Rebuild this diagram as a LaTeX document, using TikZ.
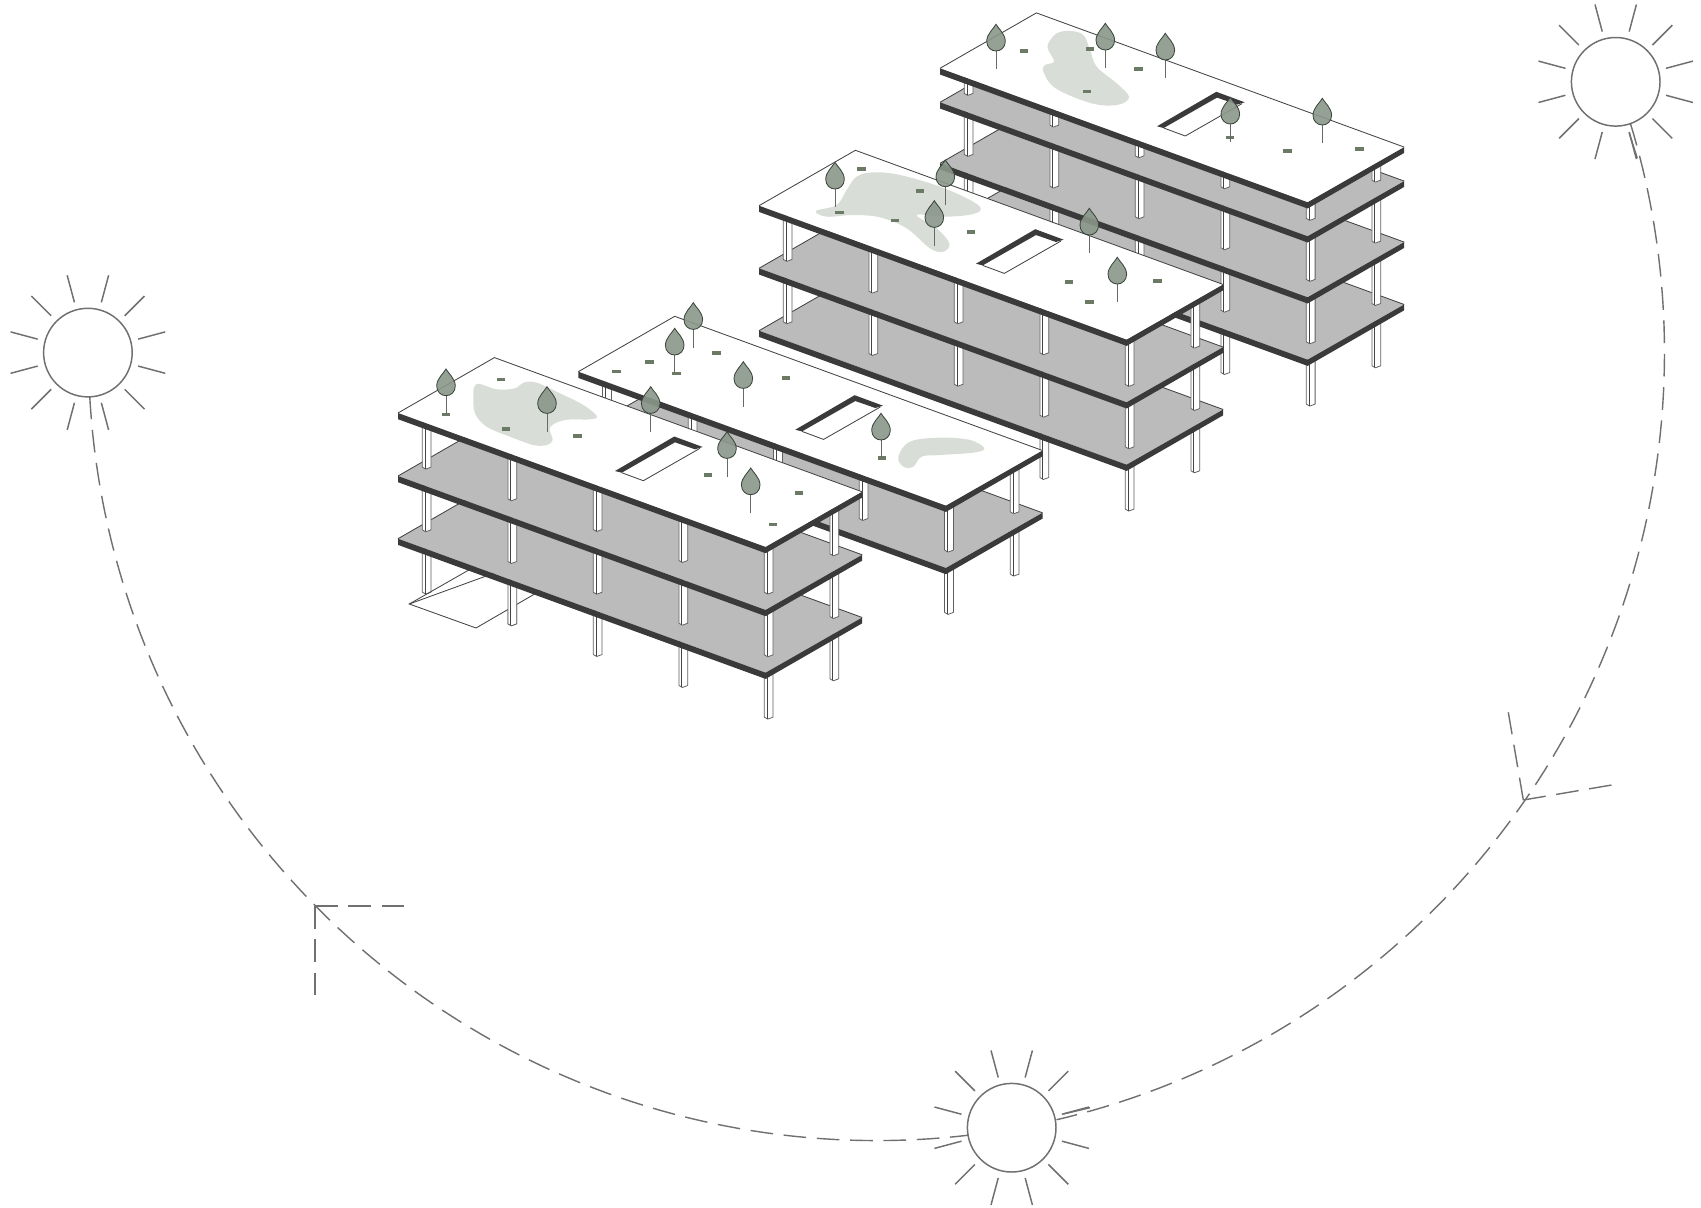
\documentclass[tikz,border=0pt]{standalone}
\definecolor{slabgray}{HTML}{BBBBBB}
\definecolor{slabdark}{HTML}{3A3A3A}
\definecolor{thinline}{HTML}{444444}
\definecolor{sunline}{HTML}{707070}
\definecolor{blobcol}{HTML}{D9DDD7}
\definecolor{leafcol}{HTML}{8A978A}
\definecolor{leafline}{HTML}{3C463C}
\definecolor{grasscol}{HTML}{6A7A64}
\tikzset{
  thinedge/.style={draw=thinline,line width=1.2pt},
  sunstroke/.style={draw=sunline,line width=2.1pt},
  dashstroke/.style={draw=sunline,line width=2pt,dash pattern=on 32.3pt off 15.15pt},
  colbody/.style={fill=white,draw=thinline!85,line width=1.1pt,line join=round},
  colinner/.style={draw=thinline,line width=1pt},
  blob/.style={fill=blobcol,draw=none},
}
\newcommand\colm[3]{% x, y bottom, length
  \path[colbody] ({#1-4.4},{#2-#3}) -- ({#1-4.4},{#2-1.2}) -- ({#1-1},{#2+0.8}) -- ({#1+4.4},{#2-1.2}) -- ({#1+4.4},{#2-#3}) -- cycle;
  \draw[colinner] ({#1-1.6},{#2-#3}) -- ({#1-1.6},{#2+0.2});
}
\newcommand\lvl[3]{% Lx, Ly of slab below, length
  \colm{#1+436.3}{#2+79}{#3}
  \foreach \dx/\dy in {28.7/-7.7,114.3/24,199.7/54.7,285.3/85.7,370.7/117.3}{
    \colm{#1+\dx}{#2+\dy}{#3}
  }
}
\newcommand\slab[3]{% Lx, Ly, fill colour
  \fill[#3] (#1,#2) -- ({#1+96.4},{#2-55.4}) -- ({#1+464.2},{#2+78.8}) -- ({#1+367.6},{#2+134}) -- cycle;
  \path[thinedge] (#1,#2) -- ({#1+96.4},{#2-55.4}) -- ({#1+464.2},{#2+78.8});
  \fill[slabdark] (#1,#2) -- ({#1+367.6},{#2+134}) -- ({#1+464.2},{#2+78.8}) -- ({#1+464.2},{#2+84.6}) -- ({#1+367.6},{#2+140.2}) -- (#1,{#2+6.2}) -- cycle;
}
\newcommand\opening[2]{% Lx, Ly
  \fill[slabdark] ({#1+217},{#2+58}) -- ({#1+276.3},{#2+23.5}) -- ({#1+304.7},{#2+34}) -- ({#1+297},{#2+36.3}) -- ({#1+277},{#2+29.3}) -- ({#1+223.7},{#2+59.7}) -- cycle;
  \path[thinedge] ({#1+223.7},{#2+59.7}) -- ({#1+245.3},{#2+67.7}) -- ({#1+302},{#2+35.3});
}
\newcommand\tree[2]{% tip x, tip y
  \draw[draw=leafline!80,line width=1.3pt] (#1,{#2+26.7}) -- (#1,{#2+45});
  \path[fill=leafcol,fill opacity=0.9,draw=leafline,line width=1.2pt]
    (#1,#2) .. controls ({#1-2},{#2+4}) and ({#1-9.3},{#2+9.5}) .. ({#1-9.3},{#2+17})
    .. controls ({#1-9.3},{#2+23}) and ({#1-4.8},{#2+26.7}) .. (#1,{#2+26.7})
    .. controls ({#1+4.8},{#2+26.7}) and ({#1+9.3},{#2+23}) .. ({#1+9.3},{#2+17})
    .. controls ({#1+9.3},{#2+9.5}) and ({#1+2},{#2+4}) .. (#1,#2) -- cycle;
}
\newcommand\grass[2]{\fill[grasscol] ({#1-4.2},{#2-1.7}) rectangle ({#1+4.2},{#2+1.8});}
\newcommand\sunshape[2]{%
  \path[sunstroke] (#1,#2) circle[radius=44.3];
  \foreach \a in {15,45,...,345}{
    \path[sunstroke] ({#1+52*cos(\a)},{#2+52*sin(\a)}) -- ({#1+80*cos(\a)},{#2+80*sin(\a)});
  }
}
\begin{document}
\begin{tikzpicture}[x=0.05cm,y=-0.05cm]
\useasboundingbox (0,0) rectangle (1701,1208);
\fill[white] (0,0) rectangle (1701,1208);

% --- Suns and sun path
\sunshape{87.9}{352.6}
\sunshape{1615.7}{81.8}
\sunshape{1011.7}{1127.7}
\path[dashstroke] plot[domain=176.8:83.3,samples=240] ({876.5+788*cos(\x)},{352.6+788*sin(\x)});
\path[dashstroke] plot[domain=-16.89:76.8,samples=240] ({876.5+788*cos(\x)},{352.6+788*sin(\x)});
\path[sunstroke,line width=2pt] (1629.3,133.3) -- (1637.3,158.3);
\path[sunstroke,line width=2pt] (1063.3,1114) -- (1090,1107.7);
% chevrons
\path[dashstroke] (1523.3,800) -- (1508.3,712.3);
\path[dashstroke] (1523.3,800) -- (1611.7,785);
\path[dashstroke] (315,906) -- (404.3,906);
\path[dashstroke] (315,906) -- (315,995);

% --- Building D (far)
\lvl{940}{288}{45.3}
\slab{940}{225.7}{slabgray}
\lvl{940}{225.7}{45.4}
\slab{940}{163.3}{slabgray}
\lvl{940}{163.3}{44}
\slab{940}{102.3}{slabgray}
\lvl{940}{102.3}{17}
\slab{940}{68.3}{white}
\begin{scope}[shift={(920,0)},scale=0.33333]
\fill[blob] plot[smooth cycle,tension=0.6] coordinates {(385,130)(410,100)(450,93)(490,105)(510,150)(530,200)(590,250)(627,290)(600,313)(540,315)(470,295)(400,260)(370,215)(375,195)(402,185)(385,150)};
\end{scope}
\opening{940}{68.3}

% --- Building C
\colm{1195.3}{472}{45.3}
\colm{1044.3}{478.7}{45.3}
\colm{1129.7}{510.3}{45.3}
\slab{759}{330.7}{slabgray}
\lvl{759}{330.7}{45.4}
\slab{759}{268.3}{slabgray}
\lvl{759}{268.3}{45.6}
\slab{759}{205.7}{white}
\begin{scope}[shift={(740,140)},scale=0.33333]
\fill[blob] plot[smooth cycle,tension=0.6] coordinates {(228,213)(290,195)(320,150)(350,110)(400,97)(480,105)(600,140)(690,180)(722,205)(700,222)(620,230)(530,225)(590,265)(628,310)(610,335)(570,325)(500,265)(420,232)(340,225)(260,230)};
\end{scope}
\opening{759}{205.7}

% --- Building B
\colm{1014.6}{575.3}{45.3}
\colm{949}{613.6}{45.3}
\slab{578.3}{434}{slabgray}
\lvl{578.3}{434}{45.3}
\slab{578.3}{371.7}{white}
\begin{scope}[shift={(740,140)},scale=0.33333]
\fill[blob] plot[smooth cycle,tension=0.6] coordinates {(475,950)(510,905)(600,893)(690,900)(733,925)(700,938)(600,945)(545,950)(520,980)(490,980)};
\end{scope}
\opening{578.3}{371.7}

% --- Building A (near)
\lvl{398}{601}{45.3}
\fill[white] (409.3,604) -- (476,628) -- (545,588) -- (490,575) -- cycle;
\path[thinedge] (480,563.6) -- (409.3,604) -- (476,628) -- (545,588);
\path[thinedge] (409.3,604) -- (500,571);
\colm{512.3}{625}{45.3}
\slab{398}{538.7}{slabgray}
\lvl{398}{538.7}{45.4}
\slab{398}{476}{slabgray}
\lvl{398}{476}{45.6}
\slab{398}{413}{white}
\begin{scope}[shift={(380,340)},scale=0.33333]
\fill[blob] plot[smooth cycle,tension=0.6] coordinates {(283,140)(300,132)(350,148)(405,145)(430,128)(470,128)(540,160)(610,195)(650,228)(630,238)(555,240)(510,262)(518,300)(500,315)(460,315)(390,290)(320,260)(285,220)(280,170)};
\end{scope}
\opening{398}{413}

% --- Grass marks
\foreach \gx/\gy in {500.7/379.3,445.7/414.3,506/429,577.3/436,708/474.7,799/493,772.7/524.3,
  616.3/371.3,649.3/362,716.5/352.7,676.3/373.5,786.2/378,881.7/458,
  861.3/169,839.3/212.3,920/190.7,894.7/220.3,971/232,1068.7/281.7,1157.3/281,1089.3/302,
  1023.7/51,1089.7/49,1138.3/69,1086.7/91.3,1230/137.3,1287.3/151,1359.3/148.7}{
  \grass{\gx}{\gy}
}
% --- Trees
\foreach \tx/\ty in {446/369,547/386.7,650.7/386.7,727/431.7,750.7/468,
  693.3/302.7,674.7/328.3,743.3/361.7,881/413.3,
  835/162.3,945.3/160,934.3/200.7,1089.3/208.3,1117.3/257.3,
  996/24.3,1105.3/23.3,1165.3/33.3,1230.3/97.3,1322.3/98.3}{
  \tree{\tx}{\ty}
}
\end{tikzpicture}
\end{document}
